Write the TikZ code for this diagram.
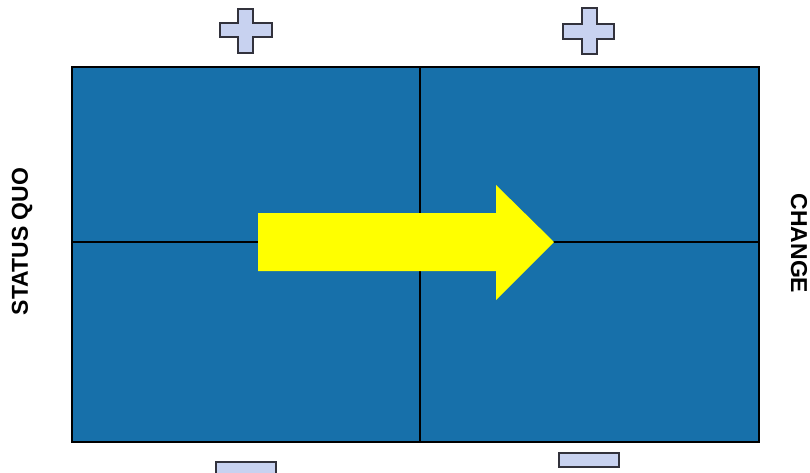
\documentclass[tikz,border=0pt]{standalone}
\usepackage{fontspec}
\setmainfont{Liberation Sans}
\definecolor{quadblue}{RGB}{23,112,170}
\definecolor{signfill}{RGB}{200,210,240}
\definecolor{signedge}{RGB}{50,50,60}
\definecolor{arrowyellow}{RGB}{255,255,0}
\begin{document}
\begin{tikzpicture}[x=1pt,y=-1pt,
  sign/.style={fill=signfill,draw=signedge,line width=1.2pt},
  divider/.style={draw=black,line width=2.2pt},
  label/.style={font=\bfseries\fontsize{23}{26}\selectfont,text=black,inner sep=0pt}]
\useasboundingbox (0,0) rectangle (810,472);
% quadrants
\fill[quadblue] (72,67) rectangle (759,442);
\draw[divider] (72,67) rectangle (759,442);
\coordinate (vt) at (420,67);
\coordinate (vb) at (420,442);
\coordinate (hl) at (72,242);
\coordinate (hr) at (759,242);
\draw[divider] (vt) -- (vb);
\draw[divider] (hl) -- (hr);
% arrow
\fill[arrowyellow] (258,213) -- (496,213) -- (496,185) -- (554,242) -- (496,300) -- (496,271) -- (258,271) -- cycle;
% plus signs
\draw[sign] (238,9) -- (253,9) -- (253,23) -- (272,23) -- (272,37) -- (253,37) -- (253,53) -- (238,53) -- (238,37) -- (220,37) -- (220,23) -- (238,23) -- cycle;
\draw[sign] (582,8) -- (597,8) -- (597,24) -- (614,24) -- (614,39) -- (597,39) -- (597,54) -- (582,54) -- (582,39) -- (563,39) -- (563,24) -- (582,24) -- cycle;
% minus signs
\draw[sign] (216,462) rectangle (276,476);
\draw[sign] (559,453) rectangle (619,467);
% labels
\node[label,rotate=90] (sq) at (22,241.5) {STATUS QUO};
\node[label,rotate=-90] (ch) at (799,243.5) {CHANGE};
\end{tikzpicture}
\end{document}
